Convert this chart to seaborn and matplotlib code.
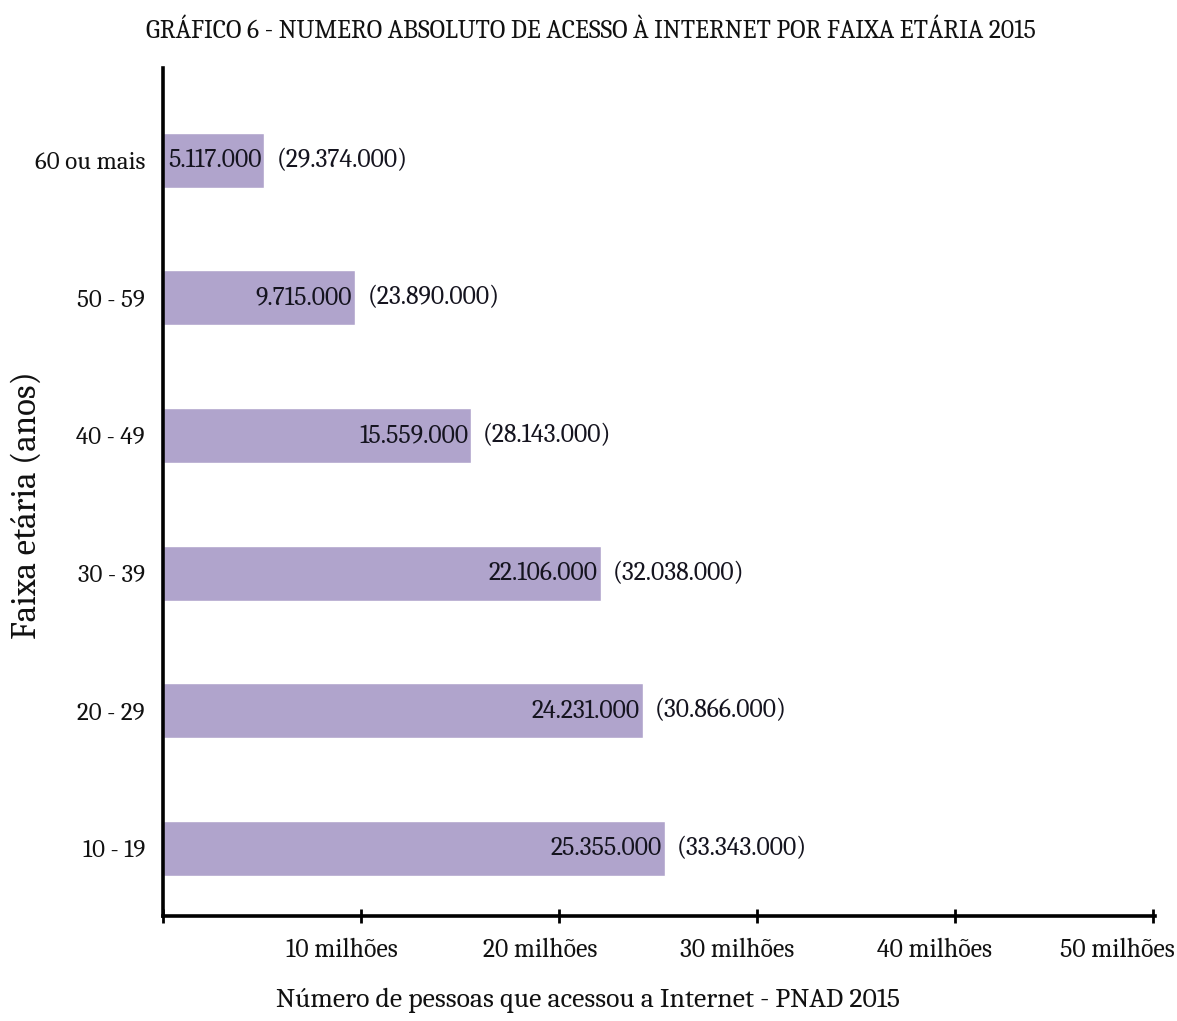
import matplotlib
matplotlib.use("Agg")
import matplotlib.pyplot as plt
import matplotlib.transforms as mtransforms
import seaborn as sns
import pandas as pd

# Internet access by age group, PNAD 2015
faixas = ["60 ou mais", "50 - 59", "40 - 49", "30 - 39", "20 - 29", "10 - 19"]
acessaram = [5117000, 9715000, 15559000, 22106000, 24231000, 25355000]
populacao = [29374000, 23890000, 28143000, 32038000, 30866000, 33343000]
ticks_valores = [0, 10_000_000, 20_000_000, 30_000_000, 40_000_000, 50_000_000]
ticks_rotulos = ["", "10 milhões", "20 milhões", "30 milhões", "40 milhões", "50 milhões"]

def fmt(v):
    return f"{v:,}".replace(",", ".")

df = pd.DataFrame({"faixa": faixas, "acessaram": acessaram})

sns.set_theme(style="white")
serif = ["Caladea", "Liberation Serif", "DejaVu Serif"]
plt.rcParams["font.family"] = serif

fig = plt.figure(figsize=(11.77, 10.21), dpi=100)
ax = fig.add_axes([163 / 1177, 105 / 1021, 992 / 1177, 848 / 1021])

sns.barplot(data=df, x="acessaram", y="faixa", orient="h", color="#b0a4cc",
            saturation=1, width=0.4, ax=ax)

ax.set_xlim(0, 50_100_000)
ax.set_ylim(5.49, -0.67)

for i, (a, p) in enumerate(zip(acessaram, populacao)):
    ax.annotate(fmt(a), xy=(a, i), xytext=(-3, 0), textcoords="offset pixels",
                ha="right", va="center", fontsize=18.5, color="#15141f")
    ax.annotate(f"({fmt(p)})", xy=(a, i), xytext=(12, 0), textcoords="offset pixels",
                ha="left", va="center", fontsize=18.5, color="#15141f")

for side in ["top", "right"]:
    ax.spines[side].set_visible(False)
for side in ["left", "bottom"]:
    ax.spines[side].set_linewidth(2.6)
    ax.spines[side].set_color("black")

ax.set_xticks(ticks_valores)
ax.set_xticklabels(ticks_rotulos)
ax.tick_params(axis="x", bottom=True, direction="inout", length=10, width=2,
               color="black", pad=11, labelsize=18.5, labelcolor="#111111")
ax.tick_params(axis="y", left=False, length=0, pad=13, labelsize=18,
               labelcolor="#111111")

shifts = [0, -19, -19, -20, -21, -36]
for lab, dx in zip(ax.get_xticklabels(), shifts):
    lab.set_transform(lab.get_transform() +
                      mtransforms.ScaledTranslation(dx / 100, 0, fig.dpi_scale_trans))

ax.set_ylabel("")
ax.set_xlabel("")

fig.text(27 / 1177, 1 - 505 / 1021, "Faixa etária (anos)", rotation=90,
         ha="center", va="center", fontsize=25, color="#111111")
fig.text(591 / 1177, 1 - 31 / 1021,
         "GRÁFICO 6 - NUMERO ABSOLUTO DE ACESSO À INTERNET POR FAIXA ETÁRIA 2015",
         ha="center", va="center", fontsize=18.5, color="#111111")
fig.text(588 / 1177, 1 - 1000 / 1021,
         "Número de pessoas que acessou a Internet - PNAD 2015",
         ha="center", va="center", fontsize=20, color="#111111")

fig.savefig("out.png", dpi=100, facecolor="white")
